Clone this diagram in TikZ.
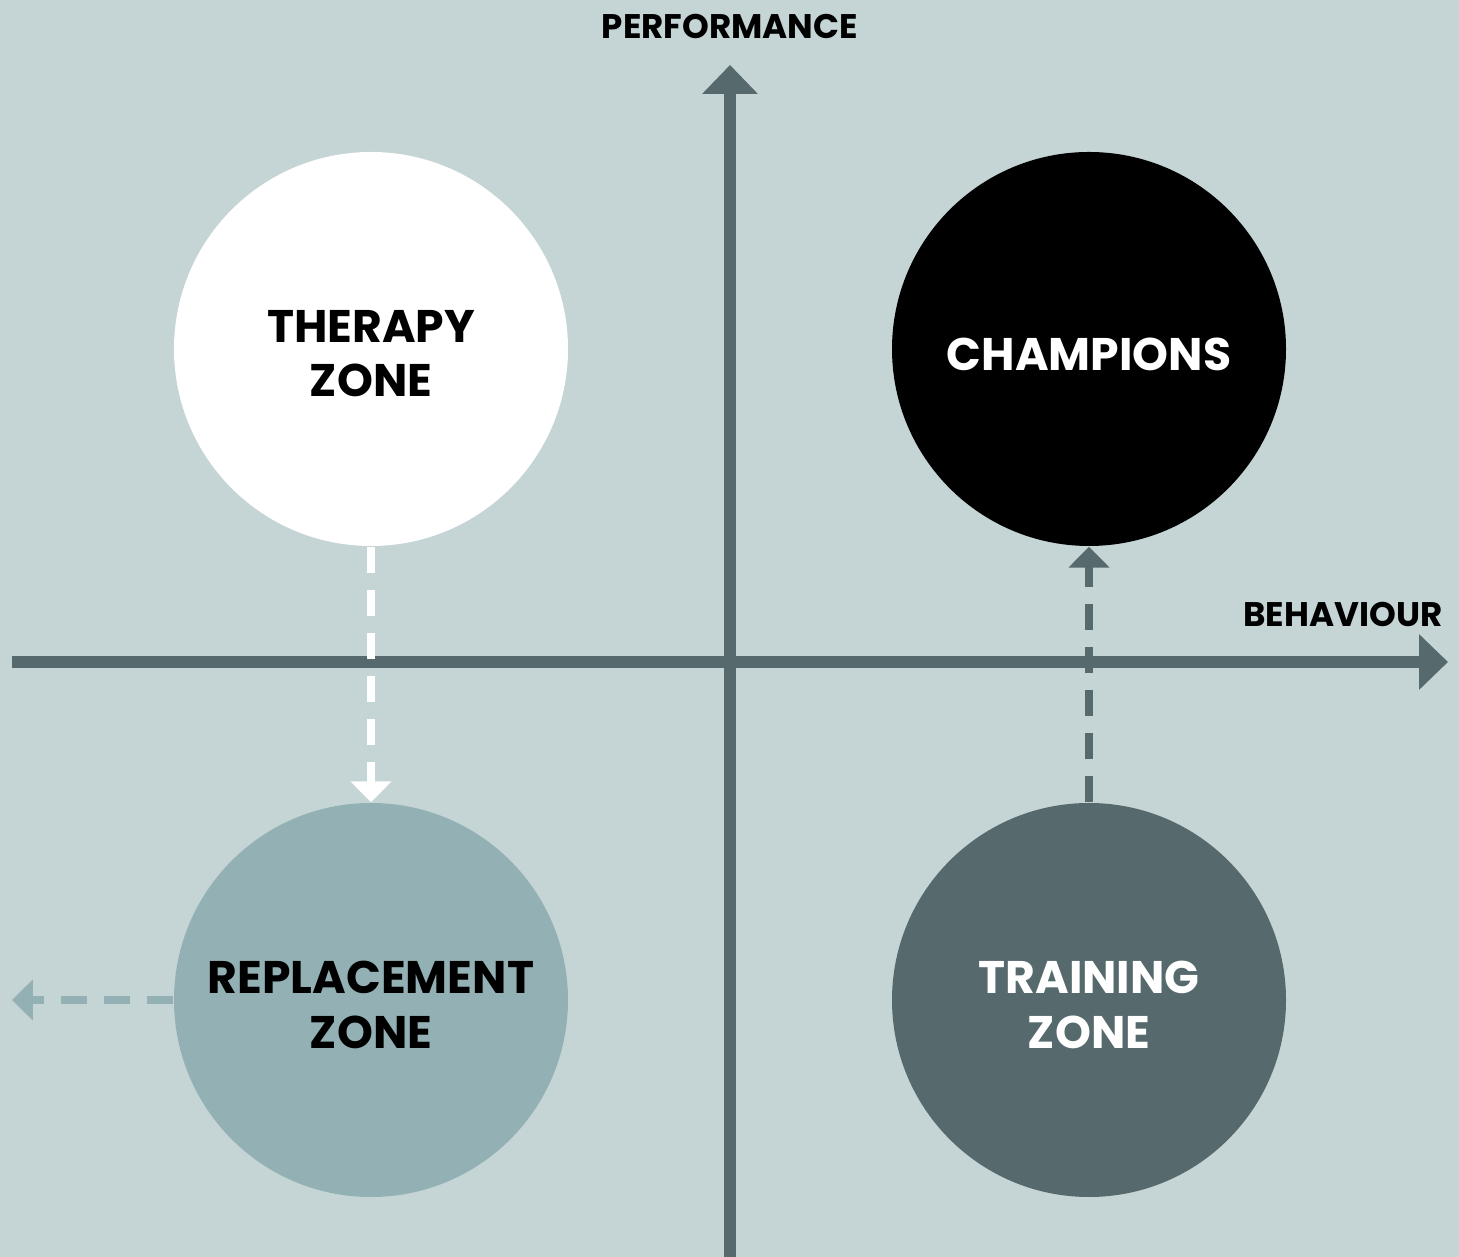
\documentclass[tikz,border=0pt]{standalone}
\usepackage{fontspec}
\setmainfont{Poppins}
\usetikzlibrary{arrows.meta}

\definecolor{bgblue}{HTML}{C5D4D5}
\definecolor{axisgrey}{HTML}{56696D}
\definecolor{paleblue}{HTML}{93B1B5}

\tikzset{
  zone/.style={circle, minimum size=3.94cm, inner sep=0pt},
  zonetext/.style={align=center, yshift=-0.5mm,
    font=\fontsize{13}{15.4}\selectfont\bfseries},
  axislabel/.style={font=\fontsize{9.7}{11}\selectfont\bfseries, inner sep=0pt},
  axisline/.style={axisgrey, line width=1.2mm, -{Triangle[length=2.9mm,width=5.4mm]}},
  move/.style={line width=0.8mm, dash pattern=on 2.6mm off 1.7mm,
    -{Triangle[length=2.1mm,width=4mm]}}
}

\begin{document}
\begin{tikzpicture}
\useasboundingbox (-7.30,-5.95) rectangle (7.29,6.62);
\fill[bgblue] (-7.30,-5.95) rectangle (7.29,6.62);

% axes
\coordinate (xstart) at (-7.18,0);
\coordinate (xend) at (7.18,0);
\coordinate (ystart) at (0,-5.95);
\coordinate (yend) at (0,5.97);
\draw[axisline] (xstart) -- (xend);
\draw[axisline] (ystart) -- (yend);

\node[axislabel] (perf) at (0,6.35) {PERFORMANCE};
\node[axislabel, anchor=east] (behav) at (7.13,0.48) {BEHAVIOUR};

% the four zones
\node[zone, fill=white, label={[zonetext]center:THERAPY\\ZONE}] (therapy) at (-3.59,3.13) {};
\node[zone, fill=black, label={[zonetext, text=white]center:CHAMPIONS}] (champions) at (3.59,3.13) {};
\node[zone, fill=paleblue, label={[zonetext]center:REPLACEMENT\\ZONE}] (replacement) at (-3.59,-3.38) {};
\node[zone, fill=axisgrey, label={[zonetext, text=white]center:TRAINING\\ZONE}] (training) at (3.59,-3.38) {};

% moves between zones
\coordinate (out) at (-7.18,-3.38);
\draw[move, white] (therapy) -- (replacement);
\draw[move, axisgrey] (training) -- (champions);
\draw[move, paleblue] (replacement) -- (out);
\end{tikzpicture}
\end{document}
